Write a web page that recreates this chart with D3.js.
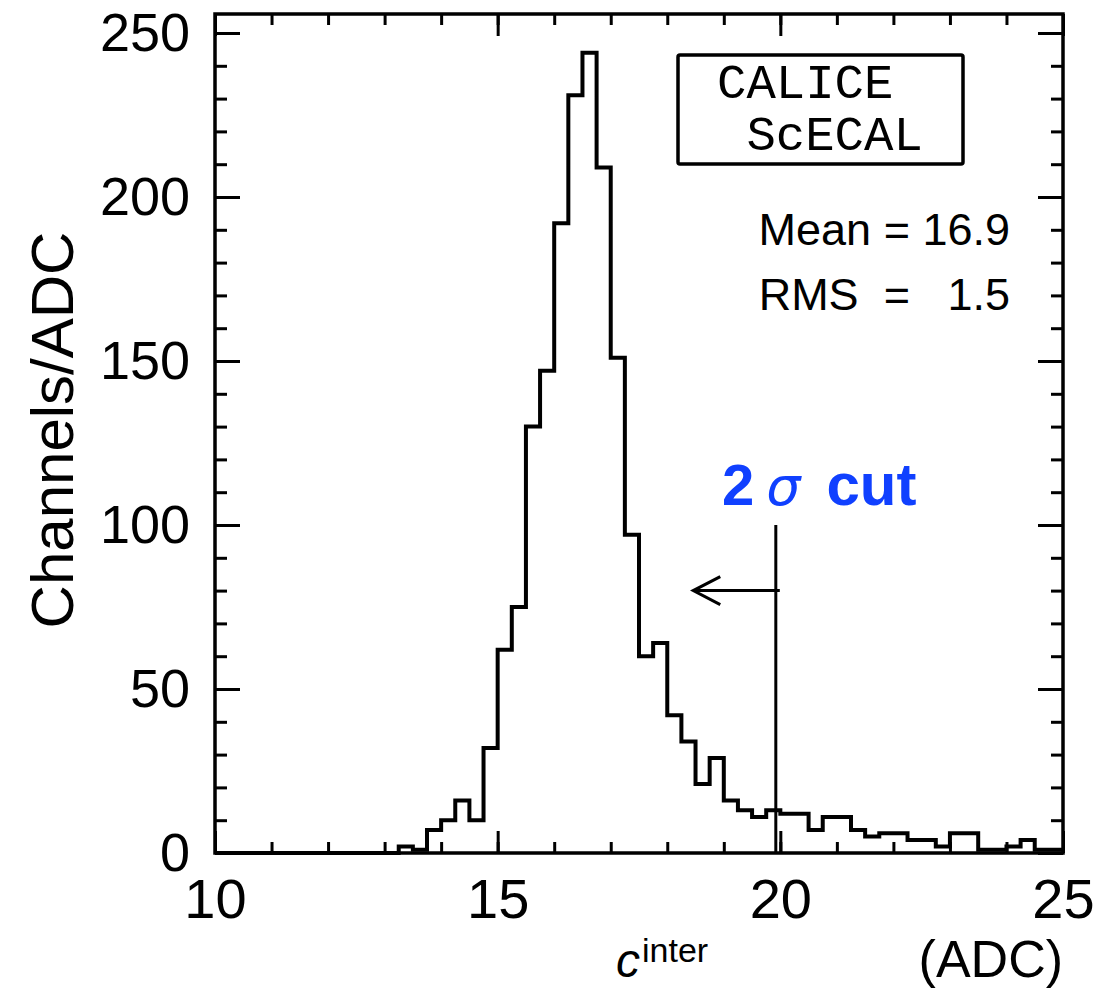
<!DOCTYPE html>
<html>
<head>
<meta charset="utf-8">
<script src="https://cdn.jsdelivr.net/npm/d3@7"></script>
<style>
  body { margin: 0; background: #fff; }
  text { font-family: "Liberation Sans", Arial, Helvetica, sans-serif; }
</style>
</head>
<body>
<div id="chart"></div>
<script>
// bin lower edges run from 10 to 25 in steps of 0.25 ADC
const binStart = 10;
const binWidth = 0.25;
const binCounts = [
    0, 0, 0, 0, 0, 0, 0, 0, 0, 0, 0, 0, 0, 2, 1, 7, 10, 16, 10, 32,
    62, 75, 130, 147, 192, 231, 244, 209, 151, 97, 60, 64, 42, 34, 21, 29, 16, 13, 11, 13,
    12, 12, 7, 11, 11, 7, 5, 6, 6, 4, 4, 2, 6, 6, 1, 1, 2, 4, 1, 1
];
const xMajorTicks = [10, 15, 20, 25];
const xMinorTicks = d3.range(10, 26, 1);
const yMajorTicks = [0, 50, 100, 150, 200, 250];
const yMinorTicks = d3.range(0, 256, 10);
const cutValue = 19.92;
const cutTop = 100;
const arrowTip = 18.46;
const arrowLevel = 80;
const statsLines = ['Mean = 16.9', 'RMS  =   1.5'];
const logoLines = ['CALICE', ' ScECAL'];

const width = 1115;
const height = 989;

const svg = d3.select('#chart')
    .append('svg')
        .attr('width', width)
        .attr('height', height);

const x = d3.scaleLinear().domain([10, 25]).range([215, 1063]);
const y = d3.scaleLinear().domain([0, 250]).range([853, 33]);
const yTop = y.invert(14);

const plotLeft = x(10), plotRight = x(25), plotBottom = y(0), plotTop = y(yTop);

// axes, ticks pointing inwards
function styleAxis(g) {
    g.select('.domain').remove();
    g.selectAll('line').attr('stroke', '#000').attr('stroke-width', 3);
}

svg.append('g')
    .attr('transform', `translate(0,${plotBottom})`)
    .call(d3.axisBottom(x).tickValues(xMinorTicks).tickSize(-11).tickFormat(''))
    .call(styleAxis);
svg.append('g')
    .attr('transform', `translate(0,${plotBottom})`)
    .call(d3.axisBottom(x).tickValues(xMajorTicks).tickSize(-22).tickPadding(25).tickFormat(d3.format('d')))
    .call(styleAxis)
    .call(g => g.selectAll('text').attr('font-size', 56).attr('fill', '#000'));
svg.append('g')
    .attr('transform', `translate(0,${plotTop})`)
    .call(d3.axisTop(x).tickValues(xMinorTicks).tickSize(-11).tickFormat(''))
    .call(styleAxis);
svg.append('g')
    .attr('transform', `translate(0,${plotTop})`)
    .call(d3.axisTop(x).tickValues(xMajorTicks).tickSize(-22).tickFormat(''))
    .call(styleAxis);

svg.append('g')
    .attr('transform', `translate(${plotLeft},0)`)
    .call(d3.axisLeft(y).tickValues(yMinorTicks).tickSize(-12).tickFormat(''))
    .call(styleAxis);
svg.append('g')
    .attr('transform', `translate(${plotLeft},0)`)
    .call(d3.axisLeft(y).tickValues(yMajorTicks).tickSize(-25).tickPadding(25).tickFormat(d3.format('d')))
    .call(styleAxis)
    .call(g => g.selectAll('text').attr('font-size', 54).attr('fill', '#000'));
svg.append('g')
    .attr('transform', `translate(${plotRight},0)`)
    .call(d3.axisRight(y).tickValues(yMinorTicks).tickSize(-12).tickFormat(''))
    .call(styleAxis);
svg.append('g')
    .attr('transform', `translate(${plotRight},0)`)
    .call(d3.axisRight(y).tickValues(yMajorTicks).tickSize(-25).tickFormat(''))
    .call(styleAxis);

// histogram outline
const steps = binCounts.map((c, i) => [binStart + i * binWidth, c]);
steps.push([binStart + binCounts.length * binWidth, binCounts[binCounts.length - 1]]);

svg.append('path')
    .datum(steps)
    .attr('fill', 'none')
    .attr('stroke', '#000')
    .attr('stroke-width', 4)
    .attr('d', d3.line().x(d => x(d[0])).y(d => y(d[1])).curve(d3.curveStepAfter));

// frame
svg.append('rect')
    .attr('x', plotLeft)
    .attr('y', plotTop)
    .attr('width', plotRight - plotLeft)
    .attr('height', plotBottom - plotTop)
    .attr('fill', 'none')
    .attr('stroke', '#000')
    .attr('stroke-width', 3.5);

// cut line and arrow
svg.append('line')
    .attr('x1', x(cutValue)).attr('x2', x(cutValue))
    .attr('y1', y(cutTop)).attr('y2', y(0))
    .attr('stroke', '#000').attr('stroke-width', 3);
svg.append('line')
    .attr('x1', x(cutValue) + 4).attr('x2', x(arrowTip))
    .attr('y1', y(arrowLevel)).attr('y2', y(arrowLevel))
    .attr('stroke', '#000').attr('stroke-width', 3);
svg.append('path')
    .attr('d', `M${x(arrowTip) + 27},${y(arrowLevel) - 14} L${x(arrowTip)},${y(arrowLevel)} L${x(arrowTip) + 27},${y(arrowLevel) + 14}`)
    .attr('fill', 'none')
    .attr('stroke', '#000')
    .attr('stroke-width', 3);

const cutLabel = svg.append('text')
    .attr('x', 722)
    .attr('y', 505)
    .attr('font-size', 58)
    .attr('font-weight', 'bold')
    .attr('fill', '#1040ff');
cutLabel.append('tspan').text('2');
cutLabel.append('tspan').attr('dx', 12).attr('font-style', 'italic').attr('font-weight', 'normal')
    .style('font-family', '"DejaVu Sans", sans-serif').attr('font-size', 54).text('σ');
cutLabel.append('tspan').attr('dx', 26).attr('font-size', 60).text('cut');

// logo box
svg.append('rect')
    .attr('x', 678).attr('y', 55)
    .attr('width', 285).attr('height', 109)
    .attr('rx', 2)
    .attr('fill', 'none')
    .attr('stroke', '#000')
    .attr('stroke-width', 3.5);
svg.selectAll('.logo')
    .data(logoLines)
    .join('text')
        .attr('class', 'logo')
        .attr('x', 717)
        .attr('y', (d, i) => 98 + i * 52)
        .attr('font-size', 49)
        .style('font-family', '"Liberation Mono", "Courier New", monospace')
        .style('white-space', 'pre')
        .attr('fill', '#000')
        .text(d => d);

// stats
svg.selectAll('.stats')
    .data(statsLines)
    .join('text')
        .attr('class', 'stats')
        .attr('x', 1010)
        .attr('y', (d, i) => 245 + i * 65)
        .attr('text-anchor', 'end')
        .attr('font-size', 45)
        .style('white-space', 'pre')
        .attr('fill', '#000')
        .text(d => d);

// axis titles
svg.append('text')
    .attr('transform', 'translate(73,430) rotate(-90)')
    .attr('text-anchor', 'middle')
    .attr('font-size', 60)
    .attr('fill', '#000')
    .text('Channels/ADC');

const xTitle = svg.append('text')
    .attr('x', 616)
    .attr('y', 977)
    .attr('fill', '#000');
xTitle.append('tspan').attr('font-size', 48).attr('font-style', 'italic').text('c');
xTitle.append('tspan').attr('font-size', 34).attr('dy', -15).attr('dx', 2).text('inter');

svg.append('text')
    .attr('x', 1063)
    .attr('y', 977)
    .attr('text-anchor', 'end')
    .attr('font-size', 52)
    .attr('fill', '#000')
    .text('(ADC)');
</script>
</body>
</html>
